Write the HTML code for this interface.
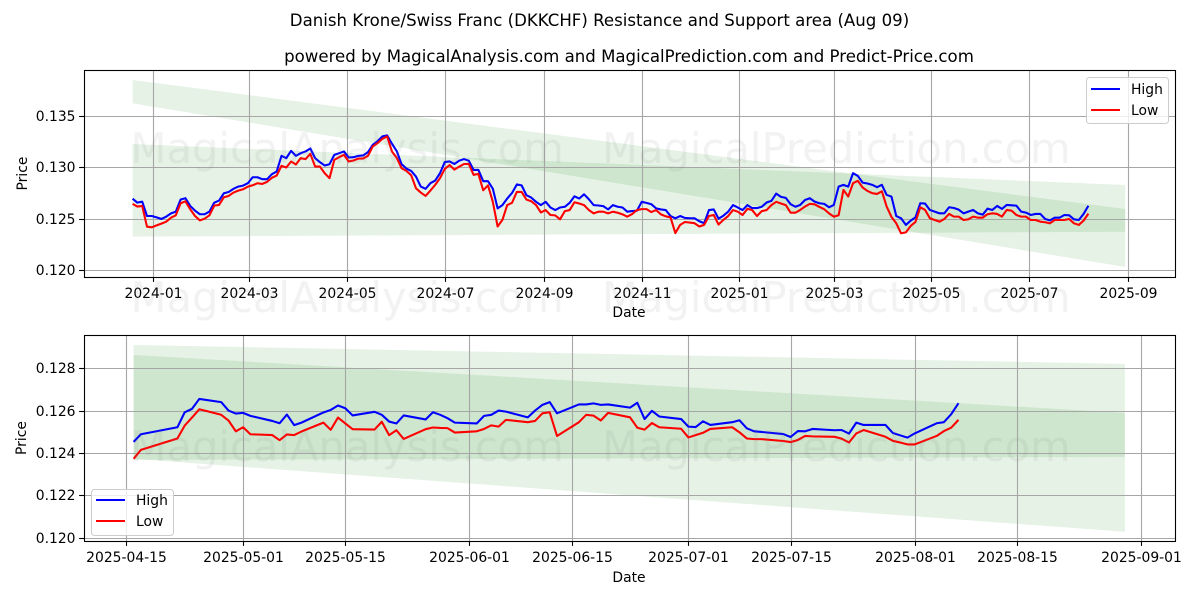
<!DOCTYPE html>
<html lang="en">
<head>
<meta charset="utf-8">
<title>Danish Krone/Swiss Franc (DKKCHF) Resistance and Support area</title>
<style>
html,body{margin:0;padding:0;background:#fff;width:1200px;height:600px;overflow:hidden}
svg{display:block}
text{font-family:"DejaVu Sans","Liberation Sans",sans-serif;fill:#000}
.t{font-size:16.6px}
.l{font-size:13.89px}
.wm{font-size:41.67px;fill:#808080;fill-opacity:.1}
</style>
</head>
<body>
<svg id="fig" xmlns="http://www.w3.org/2000/svg" width="1200" height="600" viewBox="0 0 1200 600">
  <rect width="1200" height="600" fill="#fff"/>
  <text class="t" x="599.5" y="26" text-anchor="middle">Danish Krone/Swiss Franc (DKKCHF) Resistance and Support area (Aug 09)</text>
  <text class="t" x="629" y="62" text-anchor="middle">powered by MagicalAnalysis.com and MagicalPrediction.com and Predict-Price.com</text>

  <g id="top-plot"></g>
  <g id="bottom-plot"></g>

  <text class="l" x="629" y="317" text-anchor="middle">Date</text>
  <text class="l" x="27" y="173.5" text-anchor="middle" transform="rotate(-90 27 173.5)">Price</text>
  <text class="l" x="629" y="582" text-anchor="middle">Date</text>
  <text class="l" x="26" y="438" text-anchor="middle" transform="rotate(-90 26 438)">Price</text>

  <g>
    <rect x="1086.5" y="77.5" width="82" height="46" rx="3" fill="#fff" fill-opacity=".8" stroke="#ccc" stroke-width="1"/>
    <line x1="1091" y1="89" x2="1120" y2="89" stroke="#0000ff" stroke-width="2.08"/>
    <text class="l" x="1131" y="94">High</text>
    <line x1="1091" y1="110" x2="1120" y2="110" stroke="#ff0000" stroke-width="2.08"/>
    <text class="l" x="1131" y="115">Low</text>
  </g>
  <g>
    <rect x="91.5" y="489.5" width="82" height="46" rx="3" fill="#fff" fill-opacity=".8" stroke="#ccc" stroke-width="1"/>
    <line x1="96" y1="500" x2="125" y2="500" stroke="#0000ff" stroke-width="2.08"/>
    <text class="l" x="136" y="505">High</text>
    <line x1="96" y1="521" x2="125" y2="521" stroke="#ff0000" stroke-width="2.08"/>
    <text class="l" x="136" y="526">Low</text>
  </g>

  <g>
    <text class="wm" x="130.5" y="163">MagicalAnalysis.com</text>
    <text class="wm" x="602" y="163">MagicalPrediction.com</text>
    <text class="wm" x="130.5" y="312">MagicalAnalysis.com</text>
    <text class="wm" x="602" y="312">MagicalPrediction.com</text>
    <text class="wm" x="130.5" y="461">MagicalAnalysis.com</text>
    <text class="wm" x="602" y="461">MagicalPrediction.com</text>
  </g>
</svg>

<script>
// ---- Top chart data ----
const topStartDate = '2023-12-19';
const topStepDays = 3;
const topHigh = [0.12701,0.12662,0.12672,0.12532,0.12532,0.12519,0.12503,0.12526,0.12558,0.12575,
0.12692,0.12705,0.12630,0.12584,0.12549,0.12549,0.12575,0.12662,0.12682,0.12753,
0.12766,0.12796,0.12818,0.12828,0.12851,0.12909,0.12909,0.12890,0.12890,0.12939,
0.12965,0.13117,0.13095,0.13166,0.13117,0.13143,0.13160,0.13189,0.13095,0.13056,
0.13023,0.13036,0.13127,0.13143,0.13160,0.13101,0.13104,0.13117,0.13121,0.13153,
0.13225,0.13260,0.13306,0.13316,0.13235,0.13163,0.13036,0.12994,0.12971,0.12916,
0.12818,0.12796,0.12851,0.12877,0.12948,0.13057,0.13063,0.13038,0.13070,0.13086,
0.13070,0.12980,0.12980,0.12871,0.12871,0.12798,0.12606,0.12638,0.12702,0.12756,
0.12839,0.12830,0.12734,0.12711,0.12670,0.12638,0.12670,0.12615,0.12590,0.12615,
0.12622,0.12660,0.12724,0.12702,0.12743,0.12695,0.12638,0.12634,0.12628,0.12596,
0.12638,0.12622,0.12615,0.12574,0.12580,0.12583,0.12670,0.12660,0.12647,0.12606,
0.12596,0.12590,0.12532,0.12510,0.12532,0.12513,0.12510,0.12510,0.12481,0.12462,
0.12590,0.12596,0.12506,0.12535,0.12574,0.12638,0.12615,0.12590,0.12638,0.12609,
0.12609,0.12622,0.12663,0.12679,0.12750,0.12718,0.12708,0.12647,0.12622,0.12640,
0.12688,0.12705,0.12672,0.12656,0.12650,0.12617,0.12640,0.12818,0.12835,0.12818,
0.12949,0.12922,0.12857,0.12848,0.12835,0.12812,0.12835,0.12737,0.12721,0.12532,
0.12510,0.12445,0.12487,0.12519,0.12656,0.12653,0.12591,0.12575,0.12558,0.12558,
0.12617,0.12610,0.12594,0.12558,0.12575,0.12591,0.12558,0.12545,0.12604,0.12591,
0.12630,0.12601,0.12640,0.12636,0.12633,0.12575,0.12565,0.12542,0.12552,0.12552,
0.12503,0.12490,0.12516,0.12516,0.12542,0.12539,0.12500,0.12493,0.12552,0.12632];
const topLow = [0.12650,0.12624,0.12630,0.12428,0.12422,0.12441,0.12458,0.12477,0.12516,0.12539,
0.12656,0.12675,0.12598,0.12532,0.12490,0.12506,0.12539,0.12633,0.12640,0.12714,
0.12727,0.12760,0.12779,0.12792,0.12818,0.12831,0.12851,0.12844,0.12864,0.12903,
0.12926,0.13020,0.13004,0.13062,0.13033,0.13095,0.13085,0.13137,0.13013,0.13013,
0.12948,0.12900,0.13078,0.13104,0.13127,0.13062,0.13072,0.13091,0.13091,0.13117,
0.13208,0.13241,0.13283,0.13306,0.13160,0.13098,0.12997,0.12971,0.12929,0.12802,
0.12760,0.12727,0.12779,0.12835,0.12900,0.12990,0.13028,0.12983,0.13012,0.13038,
0.13038,0.12932,0.12942,0.12782,0.12830,0.12670,0.12430,0.12494,0.12638,0.12660,
0.12766,0.12766,0.12692,0.12676,0.12638,0.12567,0.12590,0.12542,0.12538,0.12500,
0.12580,0.12590,0.12666,0.12654,0.12638,0.12590,0.12558,0.12574,0.12574,0.12558,
0.12574,0.12564,0.12548,0.12526,0.12551,0.12590,0.12599,0.12599,0.12570,0.12590,
0.12548,0.12529,0.12519,0.12366,0.12446,0.12474,0.12468,0.12462,0.12430,0.12446,
0.12532,0.12542,0.12449,0.12494,0.12532,0.12590,0.12574,0.12542,0.12602,0.12590,
0.12532,0.12580,0.12590,0.12638,0.12670,0.12654,0.12638,0.12564,0.12564,0.12591,
0.12624,0.12650,0.12646,0.12620,0.12598,0.12558,0.12526,0.12539,0.12786,0.12721,
0.12851,0.12874,0.12809,0.12776,0.12754,0.12747,0.12773,0.12624,0.12523,0.12461,
0.12364,0.12373,0.12435,0.12474,0.12617,0.12591,0.12510,0.12493,0.12477,0.12503,
0.12552,0.12526,0.12526,0.12493,0.12500,0.12526,0.12516,0.12516,0.12549,0.12558,
0.12552,0.12526,0.12591,0.12584,0.12542,0.12526,0.12526,0.12493,0.12493,0.12477,
0.12471,0.12461,0.12493,0.12493,0.12493,0.12503,0.12461,0.12445,0.12487,0.12555];
const topXTicks = ['2024-01','2024-03','2024-05','2024-07','2024-09','2024-11','2025-01','2025-03','2025-05','2025-07','2025-09'];
const topYTicks = [0.120,0.125,0.130,0.135];
const topBandDates = ['2023-12-19','2025-08-30'];
const topFallingBandUpper = [0.13855,0.12600];
const topFallingBandLower = [0.13628,0.12036];
const topFlatBandUpper = [0.13232,0.12834];
const topFlatBandLower = [0.12331,0.12379];

// ---- Bottom chart data ----
const bottomDates = ['2025-04-16','2025-04-17','2025-04-22','2025-04-23','2025-04-24','2025-04-25','2025-04-28','2025-04-29','2025-04-30','2025-05-01','2025-05-02',
'2025-05-05','2025-05-06','2025-05-07','2025-05-08','2025-05-09','2025-05-12','2025-05-13','2025-05-14','2025-05-15','2025-05-16',
'2025-05-19','2025-05-20','2025-05-21','2025-05-22','2025-05-23','2025-05-26','2025-05-27','2025-05-28','2025-05-29','2025-05-30',
'2025-06-02','2025-06-03','2025-06-04','2025-06-05','2025-06-06','2025-06-09','2025-06-10','2025-06-11','2025-06-12','2025-06-13',
'2025-06-16','2025-06-17','2025-06-18','2025-06-19','2025-06-20','2025-06-23','2025-06-24','2025-06-25','2025-06-26','2025-06-27',
'2025-06-30','2025-07-01','2025-07-02','2025-07-03','2025-07-04','2025-07-07','2025-07-08','2025-07-09','2025-07-10','2025-07-11',
'2025-07-14','2025-07-15','2025-07-16','2025-07-17','2025-07-18','2025-07-21','2025-07-22','2025-07-23','2025-07-24','2025-07-25',
'2025-07-28','2025-07-29','2025-07-30','2025-07-31','2025-08-01','2025-08-04','2025-08-05','2025-08-06','2025-08-07'];
const bottomHigh = [0.12455,0.12491,0.12524,0.12595,0.12611,0.12658,0.12643,0.12603,0.12589,0.12592,0.12578,
0.12554,0.12543,0.12584,0.12534,0.12546,0.12594,0.12606,0.12627,0.12614,0.12580,
0.12597,0.12583,0.12551,0.12542,0.12580,0.12561,0.12595,0.12583,0.12567,0.12546,
0.12542,0.12578,0.12583,0.12603,0.12598,0.12571,0.12603,0.12630,0.12643,0.12590,
0.12632,0.12632,0.12637,0.12630,0.12632,0.12617,0.12640,0.12563,0.12602,0.12575,
0.12563,0.12527,0.12525,0.12552,0.12535,0.12548,0.12557,0.12519,0.12505,0.12502,
0.12492,0.12478,0.12506,0.12505,0.12516,0.12510,0.12511,0.12494,0.12546,0.12535,
0.12535,0.12497,0.12486,0.12475,0.12495,0.12543,0.12548,0.12586,0.12638];
const bottomLow = [0.12375,0.12417,0.12471,0.12532,0.12570,0.12609,0.12583,0.12556,0.12505,0.12524,0.12491,
0.12487,0.12463,0.12490,0.12487,0.12504,0.12546,0.12512,0.12570,0.12542,0.12515,
0.12513,0.12550,0.12487,0.12510,0.12469,0.12515,0.12523,0.12521,0.12520,0.12499,
0.12505,0.12516,0.12533,0.12527,0.12559,0.12548,0.12554,0.12590,0.12595,0.12483,
0.12548,0.12583,0.12579,0.12556,0.12592,0.12571,0.12522,0.12513,0.12544,0.12524,
0.12517,0.12476,0.12487,0.12498,0.12516,0.12524,0.12500,0.12471,0.12468,0.12468,
0.12459,0.12454,0.12464,0.12483,0.12481,0.12479,0.12470,0.12452,0.12495,0.12511,
0.12479,0.12460,0.12452,0.12443,0.12443,0.12483,0.12506,0.12522,0.12559];
const bottomXTicks = ['2025-04-15','2025-05-01','2025-05-15','2025-06-01','2025-06-15','2025-07-01','2025-07-15','2025-08-01','2025-08-15','2025-09-01'];
const bottomYTicks = [0.120,0.122,0.124,0.126,0.128];
const bottomBandDates = ['2025-04-16','2025-08-29T19:00:00Z'];
const bottomFallingBandUpper = [0.12866,0.12592];
const bottomFallingBandLower = [0.12375,0.12030];
const bottomFlatBandUpper = [0.12913,0.12824];
const bottomFlatBandLower = [0.12370,0.12384];

const topDates = topHigh.map(function (_, i) {
  return new Date(Date.parse(topStartDate) + i * topStepDays * 864e5).toISOString().slice(0, 10);
});

const NS = 'http://www.w3.org/2000/svg';
function dayNum(d) { return Date.parse(d.length === 7 ? d + '-01' : d) / 864e5; }
function makeX(originDate, originPx, pxPerDay) {
  return function (d) { return originPx + (dayNum(d) - dayNum(originDate)) * pxPerDay; };
}
function makeY(originValue, originPx, pxPerUnit) {
  return function (v) { return originPx + (originValue - v) * pxPerUnit; };
}
function el(tag, attrs, parent) {
  const e = document.createElementNS(NS, tag);
  for (const k in attrs) e.setAttribute(k, attrs[k]);
  parent.appendChild(e);
  return e;
}
function linePath(dates, vals, x, y) {
  return dates.map(function (d, i) {
    return (i ? 'L' : 'M') + x(d).toFixed(2) + ' ' + y(vals[i]).toFixed(2);
  }).join('');
}
function bandPath(dates, upper, lower, x, y) {
  return 'M' + x(dates[0]) + ' ' + y(upper[0]) + 'L' + x(dates[1]) + ' ' + y(upper[1]) +
         'L' + x(dates[1]) + ' ' + y(lower[1]) + 'L' + x(dates[0]) + ' ' + y(lower[0]) + 'Z';
}
function drawPlot(cfg) {
  const g = document.getElementById(cfg.id);
  const x = cfg.x, y = cfg.y, b = cfg.box;
  const bg = el('rect', {x: b.l, y: b.t, width: b.r - b.l, height: b.b - b.t, fill: '#fff'}, g);
  
  

  const falling = el('path', {d: bandPath(cfg.bandDates, cfg.fallUp, cfg.fallLo, x, y), fill: '#008000', 'fill-opacity': '.1'}, g);
  
  
  const flat = el('path', {d: bandPath(cfg.bandDates, cfg.flatUp, cfg.flatLo, x, y), fill: '#008000', 'fill-opacity': '.1'}, g);
  
  

  cfg.xTicks.forEach(function (t) {
    const px = Math.round(x(t)) + 0.5;
    const grid = el('line', {x1: px, x2: px, y1: b.t, y2: b.b, stroke: '#a6a6a6', 'stroke-width': 1.1}, g);
    
    
    const tick = el('line', {x1: px, x2: px, y1: b.b, y2: b.b + 4.9, stroke: '#000', 'stroke-width': 1.1}, g);
    
    
    const lab = el('text', {x: px, y: cfg.xLabelY, 'text-anchor': 'middle', class: 'l'}, g);
    
    
    lab.textContent = t;
  });
  cfg.yTicks.forEach(function (t) {
    const py = Math.floor(y(t)) + 0.5;
    const grid = el('line', {x1: b.l, x2: b.r, y1: py, y2: py, stroke: '#a6a6a6', 'stroke-width': 1.1}, g);
    
    
    const tick = el('line', {x1: b.l - 4.9, x2: b.l, y1: py, y2: py, stroke: '#000', 'stroke-width': 1.1}, g);
    
    
    const lab = el('text', {x: b.l - 8.5, y: py + 4.5, 'text-anchor': 'end', class: 'l'}, g);
    
    
    lab.textContent = t.toFixed(3);
  });

  const hi = el('path', {d: linePath(cfg.dates, cfg.high, x, y), fill: 'none', stroke: '#0000ff', 'stroke-width': 2.08, 'stroke-linejoin': 'round'}, g);
  
  
  const lo = el('path', {d: linePath(cfg.dates, cfg.low, x, y), fill: 'none', stroke: '#ff0000', 'stroke-width': 2.08, 'stroke-linejoin': 'round'}, g);
  
  

  const frame = el('rect', {x: b.l + 0.5, y: b.t + 0.5, width: b.r - b.l, height: b.b - b.t, fill: 'none', stroke: '#000', 'stroke-width': 1.1}, g);
  
  
}

drawPlot({
  id: 'top-plot',
  box: {l: 84, r: 1175, t: 70, b: 277},
  x: makeX('2024-01-01', 153.4, 1.601),
  y: makeY(0.125, 219.3, 10280),
  xLabelY: 298,
  xTicks: topXTicks, yTicks: topYTicks,
  dates: topDates, high: topHigh, low: topLow,
  bandDates: topBandDates,
  fallUp: topFallingBandUpper, fallLo: topFallingBandLower,
  flatUp: topFlatBandUpper, flatLo: topFlatBandLower
});
drawPlot({
  id: 'bottom-plot',
  box: {l: 84, r: 1175, t: 335, b: 541},
  x: makeX('2025-04-15', 126.3, 7.3),
  y: makeY(0.126, 411.2, 21150),
  xLabelY: 562,
  xTicks: bottomXTicks, yTicks: bottomYTicks,
  dates: bottomDates, high: bottomHigh, low: bottomLow,
  bandDates: bottomBandDates,
  fallUp: bottomFallingBandUpper, fallLo: bottomFallingBandLower,
  flatUp: bottomFlatBandUpper, flatLo: bottomFlatBandLower
});
</script>
</body>
</html>
